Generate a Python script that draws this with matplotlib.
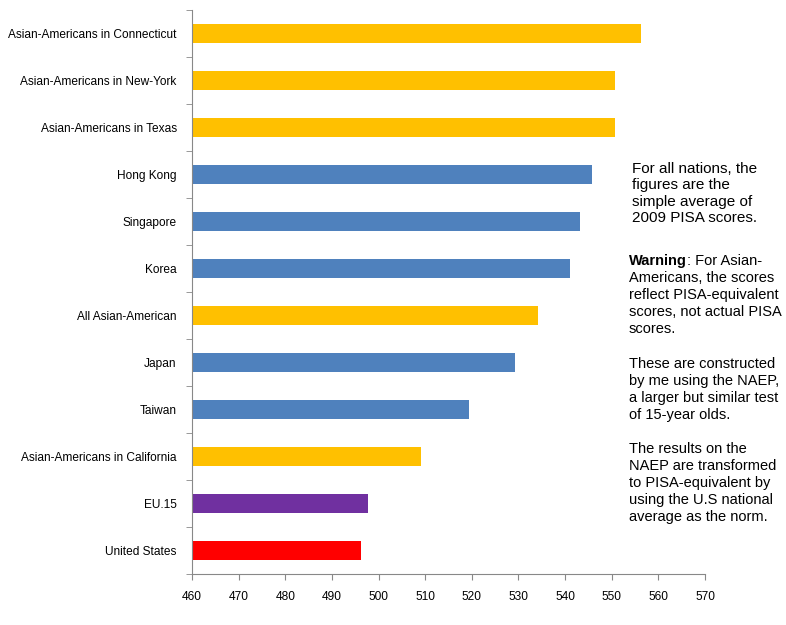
import matplotlib.pyplot as plt
import numpy as np

plt.rcParams['font.family'] = ['Liberation Sans', 'DejaVu Sans']

labels = ['Asian-Americans in Connecticut', 'Asian-Americans in New-York',
          'Asian-Americans in Texas', 'Hong Kong', 'Singapore', 'Korea',
          'All Asian-American', 'Japan', 'Taiwan',
          'Asian-Americans in California', 'EU.15', 'United States']
scores = [556.3, 550.7, 550.7, 545.7, 543.3, 541.0,
          534.1, 529.3, 519.3, 509.1, 497.7, 496.3]
groups = ['aa', 'aa', 'aa', 'n', 'n', 'n', 'aa', 'n', 'n', 'aa', 'eu', 'us']
colours = {'aa': '#FFC000', 'n': '#4F81BD', 'eu': '#7030A0', 'us': '#FF0000'}

fig = plt.figure(figsize=(7.86, 6.25), dpi=100)
ax = fig.add_axes([192/786, 51/625, 513/786, 564/625])

y = np.arange(len(labels))
ax.barh(y, np.array(scores) - 460, left=460, height=0.4,
        color=[colours[g] for g in groups])
ax.set_xlim(460, 570)
ax.set_ylim(len(labels) - 0.5, -0.5)
ax.set_xticks(np.arange(460, 571, 10))
ax.set_yticks(y)
ax.set_yticklabels(labels, fontsize=8.6)
ax.set_yticks(np.arange(-0.5, len(labels), 1), minor=True)
ax.tick_params(axis='y', which='major', length=0, pad=11)
ax.tick_params(axis='y', which='minor', length=4, color='#888888', direction='out')
ax.tick_params(axis='x', labelsize=8.6, length=4, color='#888888', pad=8)
for s in ['top', 'right']:
    ax.spines[s].set_visible(False)
for s in ['left', 'bottom']:
    ax.spines[s].set_color('#888888')

# notes on the right
fig.text(632/786, 1 - 162/625, 'For all nations, the\nfigures are the\nsimple average of\n2009 PISA scores.',
         fontsize=11, va='top', linespacing=1.22)
warn = fig.text(629/786, 1 - 254/625, 'Warning', fontsize=10.5, fontweight='bold', va='top')
ax.annotate(': For Asian-', xy=(1, 0), xycoords=warn, fontsize=10.5,
            va='bottom', ha='left', annotation_clip=False)
fig.text(629/786, 1 - 271/625, 'Americans, the scores\nreflect PISA-equivalent\nscores, not actual PISA\nscores.',
         fontsize=10.5, va='top', linespacing=1.28)
fig.text(629/786, 1 - 357/625, 'These are constructed\nby me using the NAEP,\na larger but similar test\nof 15-year olds.',
         fontsize=10.5, va='top', linespacing=1.28)
fig.text(629/786, 1 - 442/625, 'The results on the\nNAEP are transformed\nto PISA-equivalent by\nusing the U.S national\naverage as the norm.',
         fontsize=10.5, va='top', linespacing=1.28)

fig.savefig('out.png', dpi=100)
